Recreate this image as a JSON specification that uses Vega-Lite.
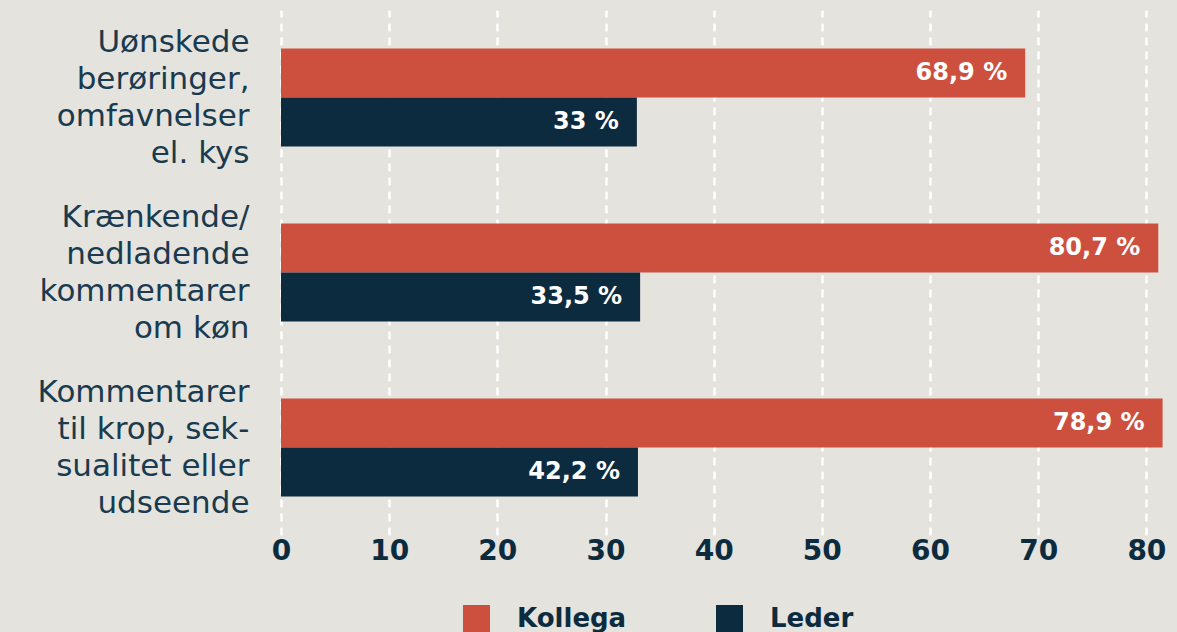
{
  "$schema": "https://vega.github.io/schema/vega-lite/v6.json",
  "autosize": {"type": "none"},
  "width": 887,
  "height": 525,
  "padding": {"left": 281, "top": 10, "right": 9, "bottom": 97},
  "background": "#e4e3dd",
  "config": {
    "view": {"stroke": null},
    "font": "DejaVu Sans"
  },
  "data": {
    "values": [
      {"kategori": "Uønskede|berøringer,|omfavnelser|el. kys", "gruppe": "Kollega", "vaerdi": 68.8, "etiket": "68,9 %"},
      {"kategori": "Uønskede|berøringer,|omfavnelser|el. kys", "gruppe": "Leder", "vaerdi": 32.9, "etiket": "33 %"},
      {"kategori": "Krænkende/|nedladende|kommentarer|om køn", "gruppe": "Kollega", "vaerdi": 81.1, "etiket": "80,7 %"},
      {"kategori": "Krænkende/|nedladende|kommentarer|om køn", "gruppe": "Leder", "vaerdi": 33.2, "etiket": "33,5 %"},
      {"kategori": "Kommentarer|til krop, sek-|sualitet eller|udseende", "gruppe": "Kollega", "vaerdi": 81.5, "etiket": "78,9 %"},
      {"kategori": "Kommentarer|til krop, sek-|sualitet eller|udseende", "gruppe": "Leder", "vaerdi": 33.0, "etiket": "42,2 %"}
    ]
  },
  "encoding": {
    "y": {
      "field": "kategori", "type": "nominal", "sort": null,
      "scale": {"paddingInner": 0.44, "paddingOuter": 0.22},
      "axis": {
        "title": null, "domain": false, "ticks": false,
        "labelExpr": "split(datum.value, '|')",
        "labelFontSize": 31, "labelFont": "DejaVu Sans", "labelFontWeight": 400,
        "labelColor": "#1a3a4f", "labelLineHeight": 37,
        "labelPadding": 32, "labelLimit": 300, "labelAlign": "right", "labelBaseline": "middle",
        "labelOffset": -55
      }
    },
    "yOffset": {"field": "gruppe", "type": "nominal", "sort": ["Kollega", "Leder"], "scale": {"paddingInner": 0, "paddingOuter": 0}},
    "x": {
      "field": "vaerdi", "type": "quantitative",
      "scale": {"domain": [0, 82], "nice": false},
      "axis": {
        "title": null, "domain": false, "ticks": false,
        "values": [0, 10, 20, 30, 40, 50, 60, 70, 80],
        "grid": true, "gridColor": "#ffffff", "gridWidth": 2.5, "gridDash": [8, 6],
        "labelFontSize": 28, "labelFontWeight": 700, "labelColor": "#0c2b3e",
        "labelPadding": 2, "labelFlush": false
      }
    }
  },
  "layer": [
    {
      "mark": {"type": "bar"},
      "encoding": {
        "color": {
          "field": "gruppe", "type": "nominal",
          "scale": {"domain": ["Kollega", "Leder"], "range": ["#cd503f", "#0c2b3f"]},
          "legend": {
            "title": null, "orient": "none", "direction": "horizontal",
            "legendX": 182, "legendY": 595,
            "symbolType": "square", "symbolSize": 729, "symbolStrokeWidth": 0,
            "labelFontSize": 26, "labelFontWeight": 700, "labelColor": "#0c2b3e",
            "labelOffset": 27, "columnPadding": 89
          }
        }
      }
    },
    {
      "mark": {"type": "text", "align": "right", "baseline": "middle", "dx": -18, "fontSize": 24, "fontWeight": 700, "color": "#ffffff"},
      "encoding": {"text": {"field": "etiket"}}
    }
  ]
}
